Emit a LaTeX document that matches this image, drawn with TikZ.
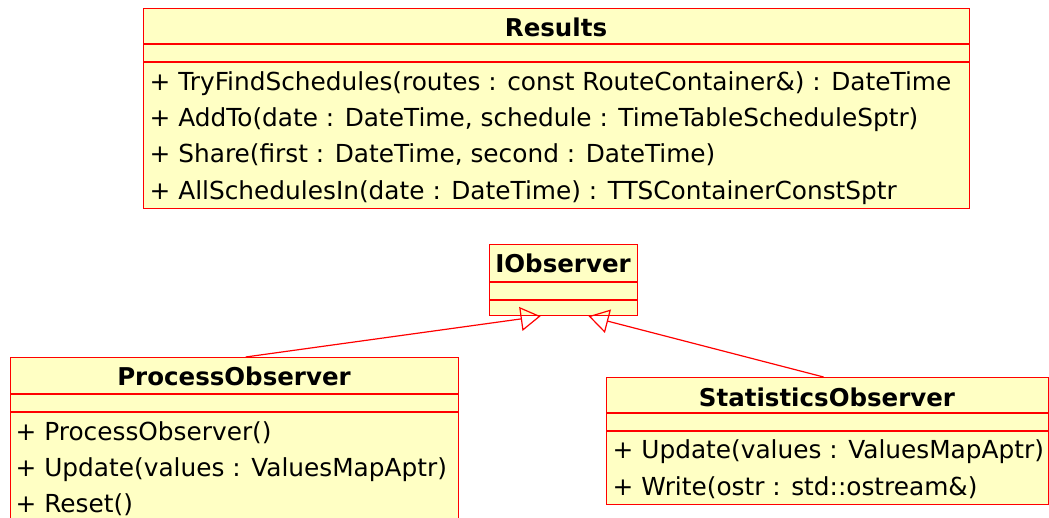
\documentclass[tikz,border=0pt]{standalone}
\usepackage{fontspec}
\setmainfont{DejaVu Sans}
\usetikzlibrary{arrows.meta}
\definecolor{umlfill}{HTML}{FFFFC4}
\definecolor{umlline}{HTML}{FF0000}
\begin{document}
\begin{tikzpicture}[x=1pt,y=-1pt,
  classbox/.style={draw=umlline,fill=umlfill,line width=1.2pt,rectangle,inner sep=0pt,anchor=north west},
  sepline/.style={draw=umlline,line width=1.2pt},
  title/.style={anchor=base,inner sep=0pt,font=\fontsize{24.5}{29}\selectfont\bfseries},
  op/.style={anchor=base west,inner sep=0pt,font=\fontsize{24.8}{29}\selectfont},
  realize/.style={draw=umlline,line width=1.2pt,-{Triangle[open,length=20pt,width=24pt]}}
]
\useasboundingbox (0,0) rectangle (1049,517);
\fill[white] (0,0) rectangle (1049,517);

% class boxes
\node[classbox,minimum width=826pt,minimum height=200pt] (res) at (143,8) {};
\node[classbox,minimum width=148pt,minimum height=71pt] (iobs) at (489,244) {};
\node[classbox,minimum width=448pt,minimum height=180pt] (po) at (10,357) {};
\node[classbox,minimum width=442pt,minimum height=127pt] (so) at (606,377) {};

% compartment separators
\draw[sepline] ([yshift=-36pt]res.north west) -- ([yshift=-36pt]res.north east);
\draw[sepline] ([yshift=-54pt]res.north west) -- ([yshift=-54pt]res.north east);
\draw[sepline] ([yshift=-38pt]iobs.north west) -- ([yshift=-38pt]iobs.north east);
\draw[sepline] ([yshift=-56pt]iobs.north west) -- ([yshift=-56pt]iobs.north east);
\draw[sepline] ([yshift=-37pt]po.north west) -- ([yshift=-37pt]po.north east);
\draw[sepline] ([yshift=-55pt]po.north west) -- ([yshift=-55pt]po.north east);
\draw[sepline] ([yshift=-36pt]so.north west) -- ([yshift=-36pt]so.north east);
\draw[sepline] ([yshift=-54pt]so.north west) -- ([yshift=-54pt]so.north east);

% Results
\node[title] (resName) at (556,36) {Results};
\node[op] (res1) at (149.5,90.5) {+ TryFindSchedules(routes : const RouteContainer\&) : DateTime};
\node[op] (res2) at (149.5,126.5) {+ AddTo(date : DateTime, schedule : TimeTableScheduleSptr)};
\node[op] (res3) at (149.5,162.5) {+ Share(first : DateTime, second : DateTime)};
\node[op] (res4) at (149.5,199) {+ AllSchedulesIn(date : DateTime) : TTSContainerConstSptr};

% IObserver
\node[title] (iobsName) at (563,272) {IObserver};

% ProcessObserver
\node[title] (poName) at (234,385) {ProcessObserver};
\node[op] (po1) at (15.5,440) {+ ProcessObserver()};
\node[op] (po2) at (15.5,476.5) {+ Update(values : ValuesMapAptr)};
\node[op] (po3) at (15.5,512) {+ Reset()};

% StatisticsObserver
\node[title] (soName) at (827,406.5) {StatisticsObserver};
\node[op] (so1) at (612.5,458.5) {+ Update(values : ValuesMapAptr)};
\node[op] (so2) at (612.5,495) {+ Write(ostr : std::ostream\&)};

% realizations
\draw[realize] ([xshift=11pt]po.north) -- ([xshift=-23pt]iobs.south);
\draw[realize] ([xshift=-4pt]so.north) -- ([xshift=25pt]iobs.south);
\end{tikzpicture}
\end{document}
